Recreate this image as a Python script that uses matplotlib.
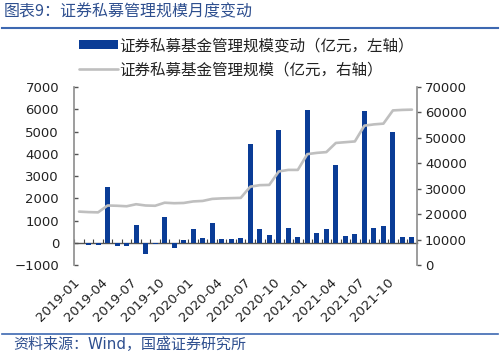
import numpy as np
import pandas as pd
import matplotlib
matplotlib.use('Agg')
import matplotlib.pyplot as plt
import matplotlib.transforms as mtransforms
from matplotlib.lines import Line2D

plt.rcParams['font.family'] = ['DejaVu Sans', 'Noto Sans CJK SC']

# monthly categories, first bar has no value
months = pd.date_range('2019-01', periods=36, freq='MS').strftime('%Y-%m').tolist()
tick_labels = ['2019-01', '2019-04', '2019-07', '2019-10', '2020-01', '2020-04',
               '2020-07', '2020-10', '2021-01', '2021-04', '2021-07', '2021-10']

# 证券私募基金管理规模变动 (亿元, left axis)
change = [np.nan, -120, -90, 2490, -150, -165, 780, -495, -75, 1180, -255, 105,
          630, 225, 870, 150, 180, 210, 4460, 600, 330, 5050, 660, 270,
          5950, 450, 600, 3505, 315, 405, 5930, 675, 735, 4960, 270, 255]

# 证券私募基金管理规模 (亿元, right axis)
aum = [21000, 20800, 20700, 23400, 23300, 23100, 23900, 23400, 23300, 24500, 24300, 24400,
       25000, 25200, 26000, 26200, 26300, 26400, 30800, 31400, 31500, 36800, 37400, 37400,
       43600, 44100, 44400, 48000, 48300, 48600, 54800, 55300, 55600, 60800, 61000, 61100]

bar_label = '证券私募基金管理规模变动（亿元，左轴）'
line_label = '证券私募基金管理规模（亿元，右轴）'
title = '图表9：证券私募管理规模月度变动'
source = '资料来源：Wind，国盛证券研究所'

blue = '#0A3C96'
grey_line = '#BFBFBF'
spine_col = '#8C8C8C'
head_blue = '#2E4F8F'

x = np.arange(len(months))

fig = plt.figure(figsize=(5, 3.54), dpi=100)
ax = fig.add_axes([0.1486, 0.2514, 0.6848, 0.5028])
ax.bar(x, change, width=0.53, color=blue, label=bar_label, zorder=2)
ax.set_xlim(-0.5, len(months) - 0.5)
ax.set_ylim(-1000, 7000)
ax.set_yticks(np.arange(-1000, 7001, 1000))

ax2 = ax.twinx()
ax2.plot(x, aum, color=grey_line, lw=1.9, label=line_label, solid_joinstyle='round',
         solid_capstyle='round')
ax2.set_ylim(0, 70000)
ax2.set_yticks(np.arange(0, 70001, 10000))

# spines
for s in ['top', 'bottom', 'right']:
    ax.spines[s].set_visible(False)
for s in ['top', 'bottom', 'left']:
    ax2.spines[s].set_visible(False)
ax.spines['left'].set_color(spine_col)
ax.spines['left'].set_linewidth(1.2)
ax2.spines['right'].set_color(spine_col)
ax2.spines['right'].set_linewidth(1.2)

ax.tick_params(axis='y', direction='in', length=3, width=1, color='#555555',
               labelsize=9.5, pad=11, labelcolor='#222222')
ax2.tick_params(axis='y', direction='out', length=3, width=1, color='#555555',
                labelsize=9.5, pad=3, labelcolor='#222222')

# category labels at the bottom, rotated
ax.set_xticks(x[::3])
ax.set_xticklabels(tick_labels, rotation=45, ha='right', fontsize=9.5, color='#222222')
ax.tick_params(axis='x', length=0, pad=8)
shift = mtransforms.ScaledTranslation(3 / 100, 0, fig.dpi_scale_trans)
for lab in ax.get_xticklabels():
    lab.set_transform(lab.get_transform() + shift)

# zero line with boundary ticks
zero = ax.secondary_xaxis(1000 / 8000)
zero.set_xticks(np.arange(-0.5, len(months), 1.0))
zero.tick_params(direction='in', length=3, width=0.8, color='#444444', labelbottom=False)
zero.spines['bottom'].set_color('#555555')
zero.spines['bottom'].set_linewidth(1.0)

# legend
h1, l1 = ax.get_legend_handles_labels()
h2, l2 = ax2.get_legend_handles_labels()
fig.legend(h1 + h2, l1 + l2, loc='upper left', bbox_to_anchor=(79 / 500, 1 - 38 / 354),
           frameon=False, fontsize=11.2, handlelength=2.5, handleheight=0.6,
           handletextpad=0.1, labelspacing=0.62, borderpad=0, borderaxespad=0,
           labelcolor='#222222')

# header / footer
fig.text(4 / 500, 1 - 12 / 354, title, ha='left', va='center', fontsize=11.5,
         color=head_blue, family=['Noto Sans CJK SC'])
fig.add_artist(Line2D([0.004, 0.996], [1 - 28 / 354] * 2, color='#3D68B1', lw=1.5))
fig.add_artist(Line2D([0.004, 0.996], [1 - 334 / 354] * 2, color='#3D68B1', lw=1.2))
fig.text(13 / 500, 1 - 345 / 354, source, ha='left', va='center', fontsize=10.8,
         color=head_blue)

fig.savefig('out.png', dpi=100)
